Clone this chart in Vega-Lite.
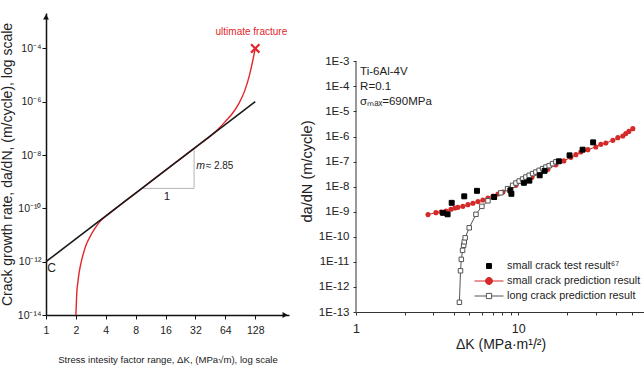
{
  "$schema": "https://vega.github.io/schema/vega-lite/v6.json",
  "padding": {"left": 0, "top": 13, "right": 0, "bottom": 0},
  "background": "white",
  "spacing": 10,
  "config": {"view": {"stroke": null}, "font": "Liberation Sans", "axis": {"grid": false}},
  "datasets": {
    "paris": [{"k": 1, "r": 1e-12}, {"k": 128, "r": 1.01e-6}],
    "triangle": [{"i": 1, "k": 9.22, "r": 5.62e-10}, {"i": 2, "k": 31, "r": 5.62e-10}, {"i": 3, "k": 31, "r": 1.76e-8}],
    "curve": [
      {"k": 2.0, "r": 1e-14}, {"k": 2.02, "r": 2.51e-14}, {"k": 2.04, "r": 6.46e-14}, {"k": 2.09, "r": 1.58e-13},
      {"k": 2.15, "r": 3.63e-13}, {"k": 2.25, "r": 8.91e-13}, {"k": 2.38, "r": 2.04e-12}, {"k": 2.55, "r": 4.47e-12},
      {"k": 2.78, "r": 8.71e-12}, {"k": 3.05, "r": 1.58e-11}, {"k": 3.37, "r": 2.75e-11}, {"k": 3.75, "r": 4.17e-11},
      {"k": 4.2, "r": 5.8e-11}, {"k": 5, "r": 9.77e-11}, {"k": 6, "r": 1.66e-10}, {"k": 8, "r": 3.72e-10},
      {"k": 12, "r": 1.2e-9}, {"k": 20, "r": 5.13e-9}, {"k": 32, "r": 1.95e-8}, {"k": 46, "r": 5.5e-8},
      {"k": 55, "r": 1e-7}, {"k": 64, "r": 1.82e-7}, {"k": 75, "r": 3.55e-7}, {"k": 88, "r": 8.91e-7},
      {"k": 100, "r": 2.51e-6}, {"k": 112, "r": 1e-5}, {"k": 121, "r": 3.55e-5}, {"k": 128, "r": 1e-4}
    ],
    "smallPred": [
      {"dk": 2.78, "rate": 7.7e-10}, {"dk": 3.11, "rate": 9.2e-10}, {"dk": 3.34, "rate": 9.75e-10}, {"dk": 3.59, "rate": 1.07e-9},
      {"dk": 3.85, "rate": 1.25e-9}, {"dk": 4.07, "rate": 1.41e-9}, {"dk": 4.25, "rate": 1.5e-9}, {"dk": 4.56, "rate": 1.64e-9},
      {"dk": 4.9, "rate": 1.92e-9}, {"dk": 5.26, "rate": 2.17e-9}, {"dk": 5.65, "rate": 2.54e-9}, {"dk": 6.06, "rate": 2.93e-9},
      {"dk": 6.51, "rate": 3.52e-9}, {"dk": 6.99, "rate": 4.24e-9}, {"dk": 7.5, "rate": 5.09e-9}, {"dk": 8.05, "rate": 6.12e-9},
      {"dk": 8.76, "rate": 8.1e-9}, {"dk": 9.68, "rate": 1.13e-8}, {"dk": 10.84, "rate": 1.63e-8}, {"dk": 12.15, "rate": 2.36e-8},
      {"dk": 13.6, "rate": 3.41e-8}, {"dk": 15.24, "rate": 4.92e-8}, {"dk": 17.07, "rate": 7.44e-8}, {"dk": 19.12, "rate": 1.07e-7},
      {"dk": 21.12, "rate": 1.48e-7}, {"dk": 22.68, "rate": 1.9e-7}, {"dk": 24.34, "rate": 2.41e-7}, {"dk": 26.88, "rate": 3.0e-7},
      {"dk": 30.1, "rate": 3.82e-7}, {"dk": 32.32, "rate": 4.89e-7}, {"dk": 34.71, "rate": 5.51e-7}, {"dk": 38.33, "rate": 7.06e-7},
      {"dk": 41.15, "rate": 9.06e-7}, {"dk": 44.17, "rate": 1.05e-6}, {"dk": 46.09, "rate": 1.31e-6}, {"dk": 48.1, "rate": 1.61e-6},
      {"dk": 50.9, "rate": 2.07e-6}
    ],
    "longPred": [
      {"dk": 4.34, "rate": 2.44e-13}, {"dk": 4.41, "rate": 4.4e-12}, {"dk": 4.46, "rate": 1.26e-11}, {"dk": 4.54, "rate": 2.89e-11},
      {"dk": 4.61, "rate": 4.58e-11}, {"dk": 4.65, "rate": 6.31e-11}, {"dk": 4.71, "rate": 9.12e-11}, {"dk": 4.99, "rate": 2.29e-10},
      {"dk": 5.49, "rate": 7.89e-10}, {"dk": 5.97, "rate": 1.64e-9}, {"dk": 6.51, "rate": 2.73e-9}, {"dk": 7.11, "rate": 3.94e-9},
      {"dk": 7.82, "rate": 5.69e-9}, {"dk": 8.6, "rate": 8.36e-9}, {"dk": 9.24, "rate": 1.13e-8}, {"dk": 9.68, "rate": 1.4e-8},
      {"dk": 10.14, "rate": 1.68e-8}, {"dk": 10.64, "rate": 2.02e-8}, {"dk": 11.15, "rate": 2.43e-8}, {"dk": 11.69, "rate": 2.84e-8},
      {"dk": 12.27, "rate": 3.32e-8}, {"dk": 12.85, "rate": 3.84e-8}, {"dk": 13.47, "rate": 4.49e-8}, {"dk": 14.14, "rate": 5.25e-8},
      {"dk": 14.82, "rate": 6.08e-8}, {"dk": 15.52, "rate": 6.92e-8}, {"dk": 16.29, "rate": 8.3e-8}, {"dk": 17.07, "rate": 9.8e-8}
    ],
    "smallTest": [
      {"dk": 3.44, "rate": 9.06e-10, "series": "small crack test result⁶⁷"}, {"dk": 3.67, "rate": 7.89e-10, "series": "small crack test result⁶⁷"},
      {"dk": 3.89, "rate": 2.27e-9, "series": "small crack test result⁶⁷"}, {"dk": 4.65, "rate": 4.12e-9, "series": "small crack test result⁶⁷"},
      {"dk": 5.57, "rate": 6.83e-9, "series": "small crack test result⁶⁷"}, {"dk": 7.11, "rate": 3.86e-9, "series": "small crack test result⁶⁷"},
      {"dk": 8.95, "rate": 7.15e-9, "series": "small crack test result⁶⁷"}, {"dk": 9.08, "rate": 5.19e-9, "series": "small crack test result⁶⁷"},
      {"dk": 10.84, "rate": 1.43e-8, "series": "small crack test result⁶⁷"}, {"dk": 11.72, "rate": 1.74e-8, "series": "small crack test result⁶⁷"},
      {"dk": 13.57, "rate": 2.84e-8, "series": "small crack test result⁶⁷"}, {"dk": 14.55, "rate": 4.29e-8, "series": "small crack test result⁶⁷"},
      {"dk": 17.81, "rate": 1.03e-7, "series": "small crack test result⁶⁷"}, {"dk": 20.73, "rate": 1.78e-7, "series": "small crack test result⁶⁷"},
      {"dk": 24.94, "rate": 3.0e-7, "series": "small crack test result⁶⁷"}, {"dk": 28.97, "rate": 5.87e-7, "series": "small crack test result⁶⁷"}
    ]
  },
  "hconcat": [
    {
      "width": 243,
      "height": 302,
      "layer": [
        {
          "data": {"name": "triangle"},
          "mark": {"type": "line", "color": "#b3b3b3", "strokeWidth": 1},
          "encoding": {
            "x": {"field": "k", "type": "quantitative",
              "scale": {"type": "log", "base": 2, "domain": [1, 280], "nice": false},
              "axis": {"values": [1, 2, 4, 8, 16, 32, 64, 128], "title": "Stress intesity factor range, ΔK, (MPa√m), log scale",
                "labelFontSize": 10.5, "titleFontSize": 9.6, "titleFontWeight": "normal", "labelColor": "#222", "titleColor": "#222",
                "domainColor": "#111", "domainWidth": 1.5, "tickColor": "#111", "tickSize": 4, "labelPadding": 6, "titlePadding": 19, "labelFlush": false}},
            "y": {"field": "r", "type": "quantitative",
              "scale": {"type": "log", "domain": [1e-14, 0.00214], "nice": false},
              "axis": {"values": [1e-14, 1e-12, 1e-10, 1e-8, 1e-6, 1e-4], "title": "Crack growth rate, da/dN, (m/cycle), log scale",
                "labelExpr": "'10' + (round(log(datum.value)/LN10) == -14 ? '⁻¹⁴' : round(log(datum.value)/LN10) == -12 ? '⁻¹²' : round(log(datum.value)/LN10) == -10 ? '⁻¹⁰' : round(log(datum.value)/LN10) == -8 ? '⁻⁸' : round(log(datum.value)/LN10) == -6 ? '⁻⁶' : '⁻⁴')",
                "labelFontSize": 10.5, "labelColor": "#222",
                "titleFontSize": 14, "titleFontWeight": "normal", "titleColor": "#222",
                "domainColor": "#111", "domainWidth": 1.5, "tickColor": "#111", "tickSize": 4, "labelPadding": 1, "titlePadding": 3}},
            "order": {"field": "i", "type": "quantitative"}
          }
        },
        {
          "data": {"name": "curve"},
          "mark": {"type": "line", "color": "#e3262c", "strokeWidth": 1.4, "interpolate": "monotone"},
          "encoding": {"x": {"field": "k", "type": "quantitative"}, "y": {"field": "r", "type": "quantitative"}}
        },
        {
          "data": {"name": "paris"},
          "mark": {"type": "line", "color": "#1a1a1a", "strokeWidth": 1.6},
          "encoding": {"x": {"field": "k", "type": "quantitative"}, "y": {"field": "r", "type": "quantitative"}}
        },
        {
          "data": {"values": [{}]},
          "mark": {"type": "point", "shape": "M-1,-1L1,1M-1,1L1,-1", "filled": false, "color": "#e3262c", "strokeWidth": 2.2, "size": 70, "opacity": 1},
          "encoding": {"x": {"datum": 128}, "y": {"datum": 0.0001}}
        },
        {
          "data": {"values": [{}]},
          "mark": {"type": "point", "shape": "triangle-up", "filled": true, "color": "#111", "size": 35, "opacity": 1},
          "encoding": {"x": {"datum": 1}, "y": {"datum": 0.00151}}
        },
        {
          "data": {"values": [{}]},
          "mark": {"type": "point", "shape": "triangle-right", "filled": true, "color": "#111", "size": 35, "opacity": 1},
          "encoding": {"x": {"datum": 256}, "y": {"datum": 1e-14}}
        },
        {
          "data": {"values": [{}]},
          "mark": {"type": "text", "text": "ultimate fracture", "color": "#e3262c", "fontSize": 10, "align": "center", "baseline": "middle"},
          "encoding": {"x": {"datum": 117}, "y": {"datum": 0.000407}}
        },
        {
          "data": {"values": [{}]},
          "mark": {"type": "text", "text": "C", "color": "#222", "fontSize": 12, "align": "center", "baseline": "middle"},
          "encoding": {"x": {"datum": 1.14}, "y": {"datum": 5.75e-13}}
        },
        {
          "data": {"values": [{}]},
          "mark": {"type": "text", "text": "m", "fontStyle": "italic", "color": "#222", "fontSize": 10.5, "align": "left", "baseline": "middle"},
          "encoding": {"x": {"datum": 32.5}, "y": {"datum": 3.98e-9}}
        },
        {
          "data": {"values": [{}]},
          "mark": {"type": "text", "text": "≈ 2.85", "dx": 9.5, "color": "#222", "fontSize": 10, "align": "left", "baseline": "middle"},
          "encoding": {"x": {"datum": 32.5}, "y": {"datum": 3.98e-9}}
        },
        {
          "data": {"values": [{}]},
          "mark": {"type": "text", "text": "1", "color": "#222", "fontSize": 11.5, "align": "center", "baseline": "middle"},
          "encoding": {"x": {"datum": 16.5}, "y": {"datum": 2.75e-10}}
        }
      ]
    },
    {
      "width": 289,
      "height": 299,
      "layer": [
        {
          "data": {"name": "smallPred"},
          "mark": {"type": "line", "color": "#d42a2a", "strokeWidth": 1},
          "encoding": {
            "x": {"field": "dk", "type": "quantitative",
              "scale": {"type": "log", "domain": [1, 60.5], "nice": false},
              "axis": {"values": [1, 2, 3, 4, 5, 6, 7, 8, 9, 10, 20, 30, 40, 50, 60], "labelExpr": "datum.value == 1 || datum.value == 10 ? datum.label : ''",
                "labelOverlap": false, "labelFlush": false, "title": "ΔK (MPa·m¹/²)", "titleFontSize": 14, "titleFontWeight": "normal", "titleColor": "#222",
                "labelFontSize": 12.5, "labelColor": "#222", "domainColor": "#333", "tickColor": "#333", "tickSize": 3, "labelPadding": 7, "titlePadding": 3}},
            "y": {"field": "rate", "type": "quantitative",
              "scale": {"type": "log", "domain": [1e-13, 0.0851], "nice": false},
              "axis": {"values": [1e-13, 1e-12, 1e-11, 1e-10, 1e-9, 1e-8, 1e-7, 1e-6, 1e-5, 1e-4, 1e-3],
                "labelExpr": "'1E' + round(log(datum.value)/LN10)", "domain": false, "title": "da/dN (m/cycle)", "titleFontSize": 14.6, "titleFontWeight": "normal", "titleColor": "#222",
                "titleY": 158, "labelFontSize": 11.5, "labelColor": "#222", "tickColor": "#333", "tickSize": 3, "labelPadding": 4, "titlePadding": 4}}
          }
        },
        {
          "data": {"name": "smallPred"},
          "mark": {"type": "point", "shape": "circle", "filled": true, "color": "#d42a2a", "size": 26, "opacity": 1},
          "encoding": {"x": {"field": "dk", "type": "quantitative"}, "y": {"field": "rate", "type": "quantitative"}}
        },
        {
          "data": {"name": "longPred"},
          "mark": {"type": "line", "color": "#555", "strokeWidth": 1},
          "encoding": {"x": {"field": "dk", "type": "quantitative"}, "y": {"field": "rate", "type": "quantitative"}}
        },
        {
          "data": {"name": "longPred"},
          "mark": {"type": "point", "shape": "square", "filled": true, "fill": "white", "stroke": "#555", "strokeWidth": 1, "size": 20, "opacity": 1},
          "encoding": {"x": {"field": "dk", "type": "quantitative"}, "y": {"field": "rate", "type": "quantitative"}}
        },
        {
          "data": {"name": "smallTest"},
          "mark": {"type": "point", "filled": true, "size": 841, "strokeWidth": 1, "opacity": 1},
          "encoding": {
            "x": {"field": "dk", "type": "quantitative"},
            "y": {"field": "rate", "type": "quantitative"},
            "shape": {"field": "series", "type": "nominal",
              "scale": {"domain": ["small crack test result⁶⁷", "small crack prediction result", "long crack prediction result"],
                "range": ["M-0.17,-0.17H0.17V0.17H-0.17Z", "M-1,0H1M0.24,0A0.24,0.24 0 1 1 -0.24,0A0.24,0.24 0 1 1 0.24,0Z", "M-1,0H-0.18M0.18,0H1M-0.18,-0.18H0.18V0.18H-0.18Z"]},
              "legend": {"title": null, "orient": "none", "legendX": 428, "legendY": 245.5, "padding": 0, "symbolSize": 841, "clipHeight": 15,
                "labelFontSize": 10.8, "labelColor": "#222", "labelOffset": 3, "rowPadding": 0, "symbolStrokeWidth": 1}},
            "fill": {"field": "series", "type": "nominal",
              "scale": {"domain": ["small crack test result⁶⁷", "small crack prediction result", "long crack prediction result"], "range": ["#000000", "#d42a2a", "#ffffff"]},
              "legend": {"title": null, "orient": "none", "legendX": 428, "legendY": 245.5, "padding": 0, "symbolSize": 841, "clipHeight": 15,
                "labelFontSize": 10.8, "labelColor": "#222", "labelOffset": 3, "rowPadding": 0, "symbolStrokeWidth": 1}},
            "stroke": {"field": "series", "type": "nominal",
              "scale": {"domain": ["small crack test result⁶⁷", "small crack prediction result", "long crack prediction result"], "range": ["#000000", "#d42a2a", "#555555"]},
              "legend": {"title": null, "orient": "none", "legendX": 428, "legendY": 245.5, "padding": 0, "symbolSize": 841, "clipHeight": 15,
                "labelFontSize": 10.8, "labelColor": "#222", "labelOffset": 3, "rowPadding": 0, "symbolStrokeWidth": 1}}
          }
        },
        {
          "data": {"values": [{}]},
          "mark": {"type": "rule", "color": "#333", "strokeWidth": 1},
          "encoding": {"x": {"datum": 1}, "y": {"datum": 1e-13}, "y2": {"datum": 0.001}}
        },
        {
          "data": {"values": [{}]},
          "mark": {"type": "text", "text": ["Ti-6Al-4V", "R=0.1", "σₘₐₓ=690MPa"], "lineHeight": 15, "color": "#222", "fontSize": 11.5, "align": "left", "baseline": "top"},
          "encoding": {"x": {"datum": 1.06}, "y": {"datum": 0.00063}}
        }
      ]
    }
  ]
}
